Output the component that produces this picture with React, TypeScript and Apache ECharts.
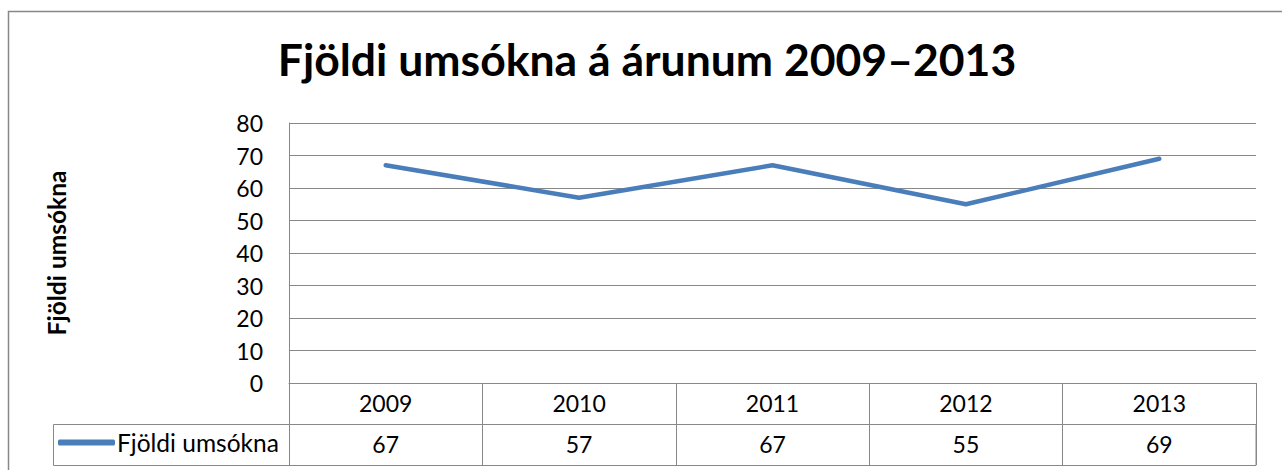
import React, { useEffect, useRef } from "react";
import * as echarts from "echarts";

const titleText = "Fjöldi umsókna á árunum 2009–2013";
const seriesName = "Fjöldi umsókna";
const yAxisTitle = "Fjöldi umsókna";
const categories = ["2009", "2010", "2011", "2012", "2013"];
const values = [67, 57, 67, 55, 69];

const FONT = "Lato, 'Open Sans', sans-serif";
const GRAY = "#888888";
const BLUE = "#4A7EBB";

export default function App() {
  const ref = useRef<HTMLDivElement>(null);
  useEffect(() => {
    if (!ref.current) return;
    const chart = echarts.init(ref.current, null, { renderer: "svg" });
    chart.setOption({
      animation: false,
      backgroundColor: "#ffffff",
      textStyle: { fontFamily: FONT },
      title: {
        text: titleText,
        left: 642,
        top: 31,
        textAlign: "center",
        textStyle: { fontFamily: FONT, fontWeight: "bold", fontSize: 44.5, color: "#000" },
      },
      legend: {
        left: 58,
        top: 430,
        padding: 0,
        icon: "roundRect",
        itemWidth: 57,
        itemHeight: 6,
        textStyle: { fontFamily: FONT, fontSize: 24.5, color: "#000", padding: [0, 0, 0, -3] },
        data: [seriesName],
      },
      grid: { left: 289, right: 26, top: 123, bottom: 87, containLabel: false },
      xAxis: [
        {
          type: "category",
          data: categories,
          boundaryGap: true,
          axisLine: { show: true, lineStyle: { color: GRAY, width: 1 } },
          axisTick: { show: true, interval: 0, length: 82, lineStyle: { color: GRAY, width: 1 } },
          axisLabel: { interval: 0, fontSize: 23, color: "#000", margin: 8, fontFamily: FONT },
        },
        {
          type: "category",
          data: categories,
          position: "bottom",
          offset: 41,
          boundaryGap: true,
          axisLine: { show: true, lineStyle: { color: GRAY, width: 1 } },
          axisTick: { show: false },
          axisLabel: {
            interval: 0,
            fontSize: 23,
            color: "#000",
            margin: 8,
            fontFamily: FONT,
            formatter: (_v: string, i: number) => String(values[i]),
          },
        },
      ],
      yAxis: {
        type: "value",
        min: 0,
        max: 80,
        interval: 10,
        name: yAxisTitle,
        nameLocation: "middle",
        nameRotate: 90,
        nameGap: 220,
        nameTextStyle: { fontFamily: FONT, fontWeight: "bold", fontSize: 24.5, color: "#000" },
        axisLine: { show: true, lineStyle: { color: GRAY, width: 1 } },
        axisTick: { show: false },
        axisLabel: { fontSize: 23, color: "#000", margin: 26, fontFamily: FONT },
        splitLine: { show: true, lineStyle: { color: GRAY, width: 1 } },
      },
      graphic: [
        {
          type: "rect",
          silent: true,
          shape: { x: 8.5, y: 11.5, width: 1300, height: 500 },
          style: { fill: "none", stroke: GRAY, lineWidth: 1.5 },
        },
        {
          type: "rect",
          silent: true,
          shape: { x: 53.5, y: 424.5, width: 1202.5, height: 41 },
          style: { fill: "none", stroke: GRAY, lineWidth: 1 },
        },
      ],
      series: [
        {
          name: seriesName,
          type: "line",
          data: values,
          showSymbol: false,
          symbol: "none",
          color: BLUE,
          lineStyle: { color: BLUE, width: 4.5, cap: "round" },
        },
      ],
    });
    return () => chart.dispose();
  }, []);
  return (
    <div
      ref={ref}
      style={{ position: "fixed", left: 0, top: 0, width: 1282, height: 470 }}
    />
  );
}
